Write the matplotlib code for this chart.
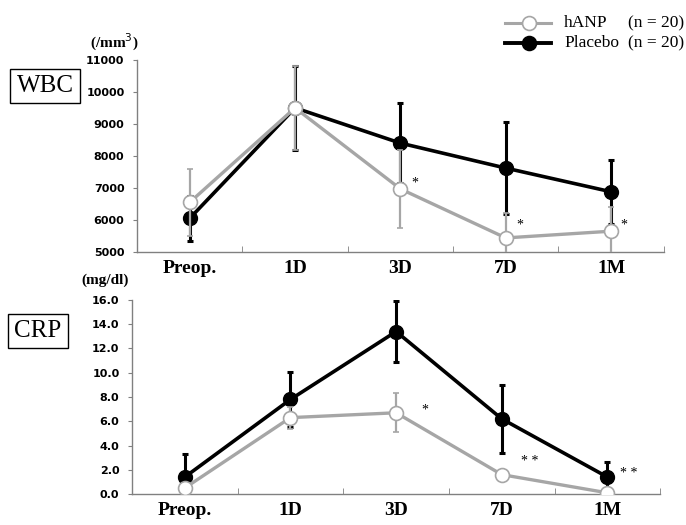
import numpy as np
import matplotlib
matplotlib.use("Agg")
from matplotlib import pyplot as plt

# data
days = ["Preop.", "1D", "3D", "7D", "1M"]

wbc_hanp = [6550, 9500, 6970, 5440, 5650]
wbc_hanp_err = [1050, 1300, 1220, 780, 750]
wbc_plac = [6050, 9500, 8400, 7620, 6880]
wbc_plac_err = [700, 1300, 1250, 1440, 1000]

crp_hanp = [0.5, 6.3, 6.7, 1.6, 0.1]
crp_hanp_err = [0.4, 0.9, 1.6, 0.3, 0.1]
crp_plac = [1.4, 7.8, 13.4, 6.2, 1.4]
crp_plac_err = [1.9, 2.3, 2.5, 2.8, 1.2]

wbc_stars = ["", "", "*", "*", "*"]
crp_stars = ["", "", "*", "**", "**"]

GRAY = "#a6a6a6"
x = np.arange(len(days))

fig = plt.figure(figsize=(6.86, 5.25), dpi=100)
ax1 = fig.add_axes([0.1997, 0.52, 0.768, 0.366])
ax2 = fig.add_axes([0.1924, 0.059, 0.770, 0.3696])


def draw(ax, plac, plac_err, hanp, hanp_err, ylim, yticks, fmt, stars, star_dx, star_dy):
    ax.errorbar(x, plac, yerr=plac_err, color="black", lw=2.6, marker="o",
                ms=10, mfc="black", mec="black", capsize=2.5, elinewidth=2.2,
                capthick=2.2, zorder=2)
    ax.errorbar(x, hanp, yerr=hanp_err, color=GRAY, lw=2.4, marker="o",
                ms=10, mfc="white", mec=GRAY, mew=1.2, capsize=2.5,
                elinewidth=1.6, capthick=1.6, zorder=3)
    ax.set_xlim(-0.5, 4.5)
    ax.set_ylim(*ylim)
    ax.set_yticks(yticks)
    ax.set_yticklabels([fmt.format(v) for v in yticks], fontsize=8,
                       fontweight="bold", family="DejaVu Sans")
    ax.set_xticks(x)
    ax.set_xticklabels(days, fontsize=14, fontweight="bold",
                       family="Liberation Serif")
    ax.set_xticks(np.arange(0.5, 5, 1), minor=True)
    ax.tick_params(axis="x", which="major", length=0, pad=6)
    ax.tick_params(axis="x", which="minor", direction="in", length=4,
                   color="#808080")
    ax.tick_params(axis="y", length=3, color="#808080", pad=6)
    for s in ["top", "right"]:
        ax.spines[s].set_visible(False)
    for s in ["left", "bottom"]:
        ax.spines[s].set_color("#808080")
        ax.spines[s].set_linewidth(1.0)
    for i, st in enumerate(stars):
        if st:
            ax.text(x[i] + star_dx[i], hanp[i] + star_dy[i], " ".join(st),
                    fontsize=10, ha="left", va="center", family="Liberation Serif")


draw(ax1, wbc_plac, wbc_plac_err, wbc_hanp, wbc_hanp_err, (5000, 11000),
     np.arange(5000, 11001, 1000), "{:.0f}", wbc_stars,
     [0, 0, 0.1, 0.1, 0.09], [0, 0, 186, 400, 194])
draw(ax2, crp_plac, crp_plac_err, crp_hanp, crp_hanp_err, (0, 16),
     np.arange(0, 16.1, 2), "{:.1f}", crp_stars,
     [0, 0, 0.24, 0.18, 0.12], [0, 0, 0.2, 1.1, 1.6])

# unit labels and boxed titles
fig.text(114 / 686, 1 - 42 / 525, "(/mm$^3$)", fontsize=11, fontweight="bold",
         family="Liberation Serif", ha="center", va="center")
fig.text(105 / 686, 1 - 280 / 525, "(mg/dl)", fontsize=11, fontweight="bold",
         family="Liberation Serif", ha="center", va="center")
box = dict(boxstyle="square,pad=0.25", fc="white", ec="black", lw=1.0)
fig.text(45 / 686, 1 - 86 / 525, "WBC", fontsize=18, family="Liberation Serif",
         ha="center", va="center", bbox=box)
fig.text(38 / 686, 1 - 331 / 525, "CRP", fontsize=18, family="Liberation Serif",
         ha="center", va="center", bbox=box)

# legend
leg_ax = fig.add_axes([0, 0, 1, 1], facecolor="none")
leg_ax.set_xlim(0, 686)
leg_ax.set_ylim(525, 0)
leg_ax.axis("off")
entries = [("hANP", GRAY, "white", 2.2, 23), ("Placebo", "black", "black", 2.8, 43)]
for name, col, face, lw, yy in entries:
    leg_ax.plot([505, 551], [yy, yy], color=col, lw=lw)
    leg_ax.plot([529], [yy], marker="o", ms=10, mfc=face, mec=col, mew=1.2)
    leg_ax.text(564, yy, name, fontsize=12.5, family="Liberation Serif", va="center")
    leg_ax.text(628, yy, "(n = 20)", fontsize=12.5, family="Liberation Serif", va="center")

fig.savefig("out.png", dpi=100)
